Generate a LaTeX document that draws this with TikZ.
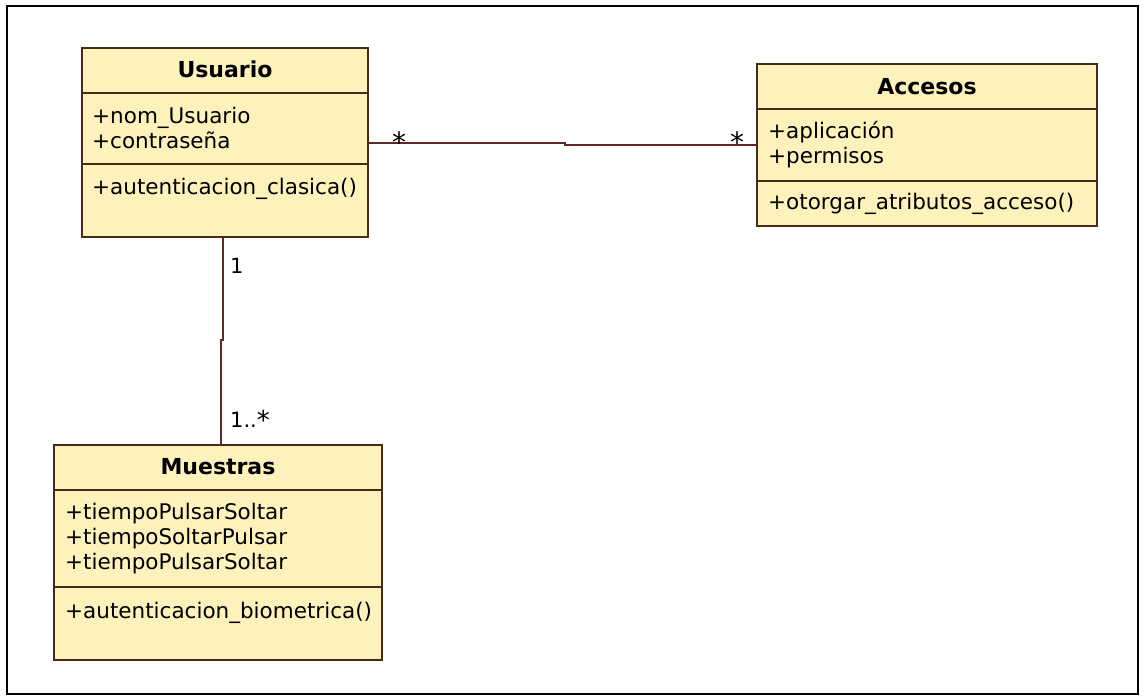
\documentclass[tikz,border=0pt]{standalone}
\usepackage{fontspec}
\setmainfont{DejaVu Sans}
\definecolor{boxfill}{HTML}{FEF2BC}
\definecolor{boxbrd}{HTML}{4A2A16}
\definecolor{linecol}{HTML}{5E2A28}
\begin{document}
\begin{tikzpicture}[x=1pt,y=-1pt,
  classbox/.style={draw=boxbrd, fill=boxfill, line width=1.8pt, inner sep=0pt},
  sepline/.style={draw=boxbrd, line width=1.5pt},
  title/.style={font=\bfseries\fontsize{22}{26}\selectfont, anchor=base, inner sep=0pt},
  member/.style={font=\fontsize{21.5}{25}\selectfont, anchor=base west, inner sep=0pt},
  mult/.style={font=\fontsize{21}{25}\selectfont, anchor=base, inner sep=0pt},
  star/.style={font=\fontsize{28}{30}\selectfont, anchor=base, inner sep=0pt},
  assoc/.style={draw=linecol, line width=1.6pt}]
\useasboundingbox (0,0) rectangle (1144,699);
\draw[line width=2pt] (7,6) rectangle (1138,694);

% Usuario
\node[classbox, minimum width=286pt, minimum height=189pt] (usuario) at (225,142.5) {};
\draw[sepline] (usuario.west |- 0,93) -- (usuario.east |- 0,93);
\draw[sepline] (usuario.west |- 0,164) -- (usuario.east |- 0,164);
\node[title] (usuarioT) at (225,77) {Usuario};
\node[member] (u1) at (92,123) {+nom\_Usuario};
\node[member] (u2) at (92,148) {+contraseña};
\node[member] (u3) at (92,194) {+autenticacion\_clasica()};

% Accesos
\node[classbox, minimum width=340pt, minimum height=162pt] (accesos) at (927,145) {};
\draw[sepline] (accesos.west |- 0,109) -- (accesos.east |- 0,109);
\draw[sepline] (accesos.west |- 0,181) -- (accesos.east |- 0,181);
\node[title] (accesosT) at (927,94) {Accesos};
\node[member] (a1) at (768,138) {+aplicación};
\node[member] (a2) at (768,163) {+permisos};
\node[member] (a3) at (768,209) {+otorgar\_atributos\_acceso()};

% Muestras
\node[classbox, minimum width=328pt, minimum height=215pt] (muestras) at (218,552.5) {};
\draw[sepline] (muestras.west |- 0,490) -- (muestras.east |- 0,490);
\draw[sepline] (muestras.west |- 0,587) -- (muestras.east |- 0,587);
\node[title] (muestrasT) at (218,474) {Muestras};
\node[member] (m1) at (65,519) {+tiempoPulsarSoltar};
\node[member] (m2) at (65,544) {+tiempoSoltarPulsar};
\node[member] (m3) at (65,569) {+tiempoPulsarSoltar};
\node[member] (m4) at (65,618) {+autenticacion\_biometrica()};

% Associations
\coordinate (j1) at (565,143);
\coordinate (j2) at (565,145);
\draw[assoc] (usuario.east |- j1) -- (j1) -- (j2) -- (accesos.west |- j2);
\coordinate (k1) at (223,340);
\coordinate (k2) at (221,340);
\draw[assoc] (usuario.south -| k1) -- (k1) -- (k2) -- (muestras.north -| k2);

% Multiplicities
\node[star] (s1) at (399,152) {*};
\node[star] (s2) at (737,152) {*};
\node[mult, anchor=base west] (n1) at (230,273) {1};
\node[mult, anchor=base west] (n2) at (230,427) {1..\raisebox{-2pt}{\fontsize{26}{28}\selectfont *}};
\end{tikzpicture}
\end{document}
